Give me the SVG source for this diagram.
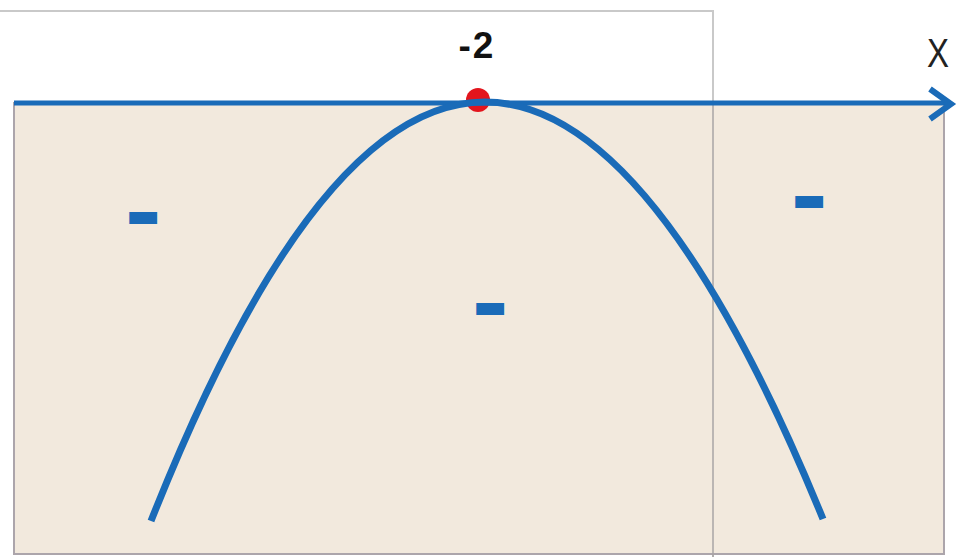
<svg xmlns="http://www.w3.org/2000/svg" width="957" height="557" viewBox="0 0 957 557">
<style>
.blue{stroke:#1a6bb8;fill:none;stroke-linecap:butt}
.sign{font-family:"Liberation Sans",Arial,sans-serif;font-weight:bold;font-size:40px;fill:#1a6bb8;stroke:#1a6bb8;stroke-width:8;text-anchor:middle}
</style>
<rect width="957" height="557" fill="#ffffff"/>
<g id="frame">
<polyline points="0,11 713,11 713,557" fill="none" stroke="#c9c9c9" stroke-width="2"/>
</g>
<g id="region">
<rect x="14" y="103" width="930" height="451" fill="#f2e9dd" stroke="#aca5ab" stroke-width="2"/>
<line x1="713" y1="103" x2="713" y2="557" stroke="#a8a4a4" stroke-width="1.5"/>
</g>
<g id="root">
<circle cx="478" cy="100" r="12" fill="#e3151d"/>
</g>
<g id="connectors">
<path class="blue" d="M14,103 H949" stroke-width="5"/>
<path class="blue" d="M930,89 L951,104 L930,119" stroke-width="6" stroke-linejoin="miter"/>
<path class="blue" d="M151,521 Q482,-316 823,519" stroke-width="7"/>
</g>
<g id="labels">
<text x="477" y="58" font-family="'Liberation Sans',Arial,sans-serif" font-weight="bold" font-size="37" fill="#111" text-anchor="middle" letter-spacing="2">-2</text>
<text x="927" y="67" font-family="'Liberation Sans',Arial,sans-serif" font-size="40" fill="#222" textLength="22" lengthAdjust="spacingAndGlyphs">X</text>
</g>
<g id="signs">
<text class="sign" x="143" y="229">–</text>
<text class="sign" x="490" y="320">–</text>
<text class="sign" x="809" y="213">–</text>
</g>
</svg>
